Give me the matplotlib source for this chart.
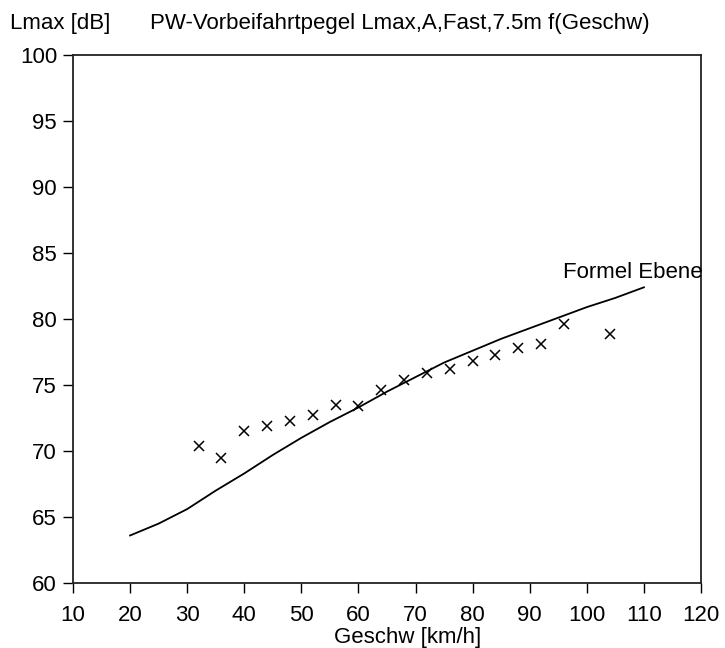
import matplotlib
matplotlib.use('Agg')
import matplotlib.pyplot as plt

plt.rcParams['font.family'] = ['Liberation Sans', 'DejaVu Sans']

# Measured points (Vorbeifahrt, Lmax)
speed_meas = [32, 36, 40, 44, 48, 52, 56, 60, 64, 68, 72, 76, 80, 84, 88, 92, 96, 104]
lmax_meas = [70.4, 69.5, 71.5, 71.9, 72.3, 72.7, 73.5, 73.4, 74.6, 75.4, 75.9, 76.2,
             76.8, 77.3, 77.8, 78.1, 79.6, 78.9]

# Formula curve "Formel Ebene"
speed_formel = [20, 25, 30, 35, 40, 45, 50, 55, 60, 65, 70, 75, 80, 85, 90, 95, 100, 105, 110]
lmax_formel = [63.6, 64.5, 65.6, 67.0, 68.3, 69.7, 71.0, 72.2, 73.3, 74.5, 75.6, 76.7,
               77.6, 78.5, 79.3, 80.1, 80.9, 81.6, 82.4]

xticks = [10, 20, 30, 40, 50, 60, 70, 80, 90, 100, 110, 120]
yticks = [60, 65, 70, 75, 80, 85, 90, 95, 100]

FS = 16
W, H = 725, 648
fig = plt.figure(figsize=(W / 100, H / 100), dpi=100)
ax = fig.add_axes([73 / W, 1 - 583 / H, (701 - 73) / W, (583 - 55) / H])

ax.plot(speed_formel, lmax_formel, color='black', linewidth=1.3)
ax.plot(speed_meas, lmax_meas, linestyle='none', marker='x', color='black',
        markersize=6.5, markeredgewidth=1.1)

ax.text(95.8, 82.7, 'Formel Ebene', fontsize=FS, ha='left', va='bottom', clip_on=False)

ax.set_xlim(10, 120)
ax.set_ylim(60, 100)
ax.set_xticks(xticks)
ax.set_yticks(yticks)
ax.tick_params(direction='out', length=7.5, width=1.0, labelsize=FS, color='black')
ax.tick_params(axis='y', pad=4)
ax.tick_params(axis='x', pad=8)
for sp in ax.spines.values():
    sp.set_linewidth(1.3)
    sp.set_color('#222222')

# Labels placed like the original program output
fig.text(10 / W, 1 - 23 / H, 'Lmax [dB]', fontsize=FS, ha='left', va='center')
fig.text(150 / W, 1 - 23 / H, 'PW-Vorbeifahrtpegel Lmax,A,Fast,7.5m f(Geschw)',
         fontsize=FS, ha='left', va='center')
fig.text(408 / W, 1 - 637 / H, 'Geschw [km/h]', fontsize=FS, ha='center', va='center')

fig.savefig('out.png', dpi=100)
